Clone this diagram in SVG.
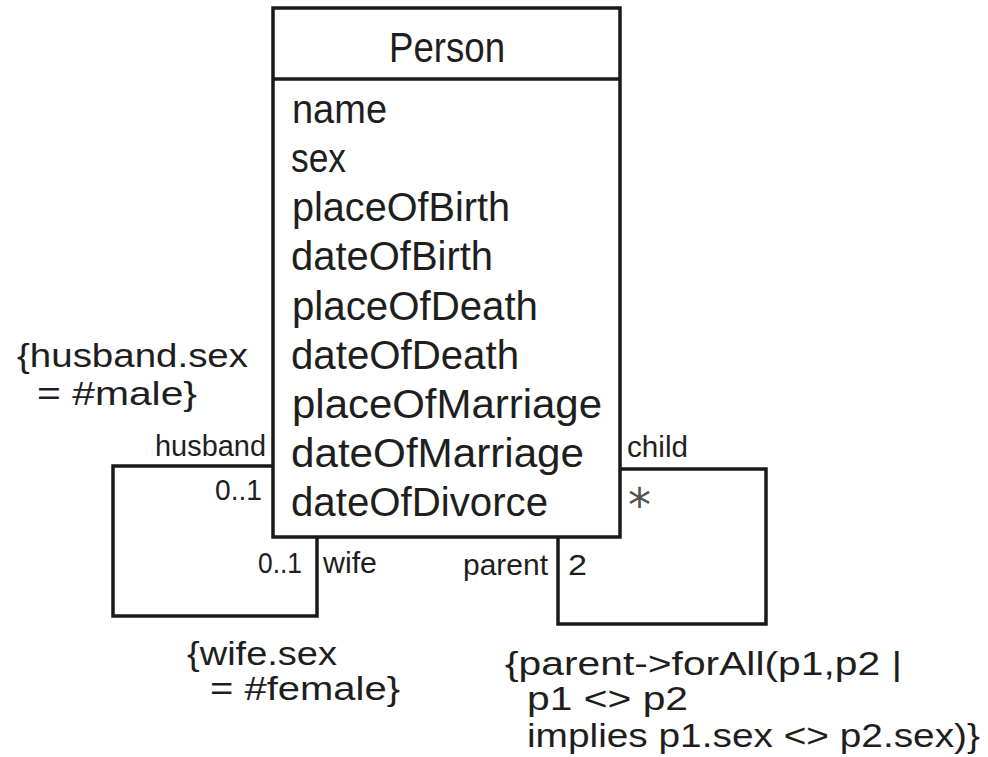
<svg xmlns="http://www.w3.org/2000/svg" width="988" height="757" viewBox="0 0 988 757">
<style>
.bg{fill:#fff}
.box{fill:#fff;stroke:#1a1a1a;stroke-width:3.5}
.line{fill:none;stroke:#1a1a1a;stroke-width:3.5}
text{font-family:"Liberation Sans",Arial,sans-serif;fill:#1e1e1e}
.title{font-size:42px}
.attr{font-size:40px}
.lbl{font-size:30px}
.cons{font-size:33px}
</style>
<rect class="bg" x="0" y="0" width="988" height="757"/>
<g id="connectors">
<polyline class="line" points="273,466 113,466 113,616 317,616 317,537"/>
<polyline class="line" points="620,469 766,469 766,624 558,624 558,537"/>
</g>
<g id="person">
<rect class="box" x="273" y="8" width="347" height="529"/>
<line class="line" x1="273" y1="79" x2="620" y2="79"/>
<text class="title" x="389" y="62" textLength="116" lengthAdjust="spacingAndGlyphs">Person</text>
<text class="attr" x="292" y="123" textLength="95" lengthAdjust="spacingAndGlyphs">name</text>
<text class="attr" x="291" y="172" textLength="55" lengthAdjust="spacingAndGlyphs">sex</text>
<text class="attr" x="292" y="221" textLength="218" lengthAdjust="spacingAndGlyphs">placeOfBirth</text>
<text class="attr" x="291" y="270" textLength="202" lengthAdjust="spacingAndGlyphs">dateOfBirth</text>
<text class="attr" x="292" y="320" textLength="246" lengthAdjust="spacingAndGlyphs">placeOfDeath</text>
<text class="attr" x="291" y="369" textLength="228" lengthAdjust="spacingAndGlyphs">dateOfDeath</text>
<text class="attr" x="292" y="418" textLength="310" lengthAdjust="spacingAndGlyphs">placeOfMarriage</text>
<text class="attr" x="291" y="467" textLength="293" lengthAdjust="spacingAndGlyphs">dateOfMarriage</text>
<text class="attr" x="291" y="516" textLength="257" lengthAdjust="spacingAndGlyphs">dateOfDivorce</text>
</g>
<g id="marriage-labels">
<text class="lbl" x="155" y="456" textLength="111" lengthAdjust="spacingAndGlyphs">husband</text>
<text class="lbl" x="215" y="500" textLength="47" lengthAdjust="spacingAndGlyphs">0..1</text>
<text class="lbl" x="258" y="573" textLength="44" lengthAdjust="spacingAndGlyphs">0..1</text>
<text class="lbl" x="323" y="573" textLength="54" lengthAdjust="spacingAndGlyphs">wife</text>
</g>
<g id="parent-labels">
<text class="lbl" x="627" y="457" textLength="61" lengthAdjust="spacingAndGlyphs">child</text>
<text x="628" y="521" style="font-family:'DejaVu Sans',sans-serif;font-size:46px;fill:#555">*</text>
<text class="lbl" x="463" y="575" textLength="85" lengthAdjust="spacingAndGlyphs">parent</text>
<text class="lbl" x="568" y="575" textLength="19" lengthAdjust="spacingAndGlyphs">2</text>
</g>
<g id="husband-constraint">
<text class="cons" x="17" y="367" textLength="231" lengthAdjust="spacingAndGlyphs">{husband.sex</text>
<text class="cons" x="37" y="405" textLength="160" lengthAdjust="spacingAndGlyphs">= #male}</text>
</g>
<g id="wife-constraint">
<text class="cons" x="187" y="665" textLength="150" lengthAdjust="spacingAndGlyphs">{wife.sex</text>
<text class="cons" x="210" y="700" textLength="190" lengthAdjust="spacingAndGlyphs">= #female}</text>
</g>
<g id="parent-constraint">
<text class="cons" x="505" y="675" textLength="397" lengthAdjust="spacingAndGlyphs">{parent-&gt;forAll(p1,p2  |</text>
<text class="cons" x="527" y="710" textLength="161" lengthAdjust="spacingAndGlyphs">p1 &lt;&gt; p2</text>
<text class="cons" x="527" y="747" textLength="453" lengthAdjust="spacingAndGlyphs">implies p1.sex &lt;&gt; p2.sex)}</text>
</g>
</svg>
